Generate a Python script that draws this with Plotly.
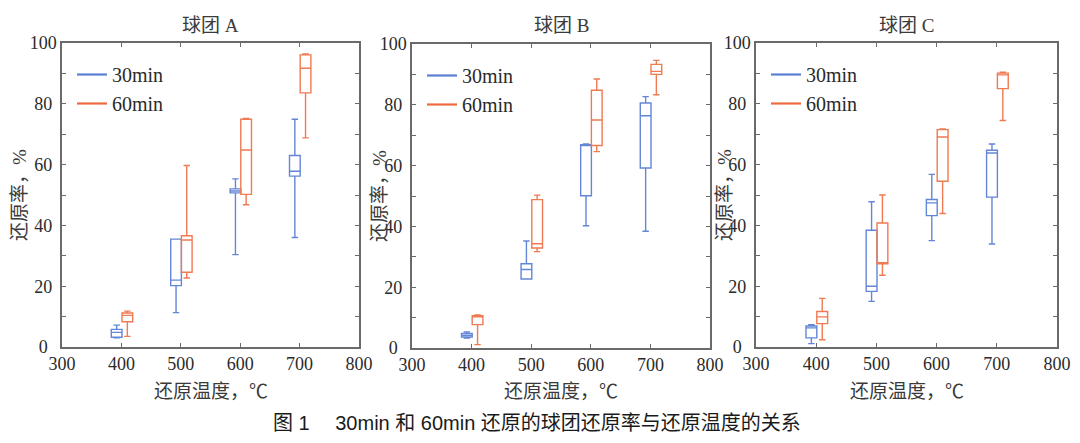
import plotly.graph_objects as go

# ---------------- data ----------------
temps = [400, 500, 600, 700]
series_names = ["30min", "60min"]
panel_titles = ["球团 A", "球团 B", "球团 C"]
x_tick_vals = [300, 400, 500, 600, 700, 800]
y_tick_vals = [0, 10, 20, 30, 40, 50, 60, 70, 80, 90, 100]
# labels are centred in the reference: pad shorter ones with thin spaces
y_tick_text = ["0\u2002", "", "20\u2005", "", "40\u2005", "", "60\u2005", "",
               "80\u2005", "", "100"]
x_title = "还原温度，℃"
y_title = "还原率，%"
caption = "图 1\u2003 30min 和 60min 还原的球团还原率与还原温度的关系"

# each row: [lower whisker, q1, median, q3, upper whisker] for 400/500/600/700 ℃
A_30min = [[3.0, 3.2, 4.8, 5.8, 7.2],
           [11.3, 20.2, 22.0, 35.5, 35.5],
           [30.4, 50.7, 51.3, 52.0, 55.3],
           [36.0, 56.2, 57.8, 63.0, 74.9]]
A_60min = [[3.5, 8.3, 10.4, 11.2, 11.8],
           [22.7, 24.6, 35.2, 36.6, 59.7],
           [46.8, 50.2, 64.8, 74.9, 75.2],
           [68.8, 83.6, 91.7, 96.1, 96.4]]
B_30min = [[3.3, 3.6, 4.2, 4.8, 5.3],
           [22.7, 22.7, 25.8, 27.7, 35.2],
           [40.2, 50.1, 66.6, 66.9, 67.1],
           [38.4, 59.2, 76.4, 80.6, 82.7]]
B_60min = [[1.1, 7.7, 10.3, 10.6, 10.9],
           [31.7, 32.9, 34.3, 48.8, 50.3],
           [64.6, 66.6, 75.0, 84.8, 88.5],
           [83.3, 90.0, 91.0, 93.3, 94.6]]
C_30min = [[1.1, 3.0, 6.3, 6.9, 7.3],
           [15.0, 18.3, 20.0, 38.4, 47.8],
           [35.0, 43.2, 47.4, 48.5, 56.8],
           [33.9, 49.3, 63.8, 64.7, 66.8]]
C_60min = [[2.4, 7.7, 9.9, 11.7, 16.0],
           [23.6, 27.4, 27.6, 40.8, 50.0],
           [43.9, 54.5, 69.1, 71.5, 71.7],
           [74.5, 85.0, 89.5, 90.1, 90.4]]

panels = [(A_30min, A_60min), (B_30min, B_60min), (C_30min, C_60min)]

# ---------------- style ----------------
W, H = 1080, 443
box_colors = ["#6486d6", "#f07a52"]
legend_colors = ["#5a7ed2", "#ef6a3e"]
offsets = [-8, 10]
box_width = 18
serif = "Liberation Serif, Noto Sans CJK SC, serif"
txt_color = "#2a2a2a"
cjk_color = "#3a3a3a"
axis_color = "#6a6a6a"

# plot areas in pixels (left, right, top, bottom) and y-title offsets
areas = [(62, 359, 43, 347), (412, 710, 44, 348), (756, 1057, 43, 347)]
ytitle_gap = [43, 33, 32]

def px(x):
    return x / W

def py(y):
    return 1 - y / H

fig = go.Figure()
layout = dict(
    width=W, height=H,
    margin=dict(l=0, r=0, t=0, b=0, autoexpand=False),
    paper_bgcolor="white", plot_bgcolor="white",
    showlegend=True,
    annotations=[],
)

for p, (s30, s60) in enumerate(panels):
    sfx = "" if p == 0 else str(p + 1)
    xa, ya = "x" + sfx, "y" + sfx
    lg = "legend" + sfx
    for s, stats in enumerate((s30, s60)):
        fig.add_trace(go.Box(
            x=[t + offsets[s] for t in temps],
            lowerfence=[r[0] for r in stats],
            q1=[r[1] for r in stats],
            median=[r[2] for r in stats],
            q3=[r[3] for r in stats],
            upperfence=[r[4] for r in stats],
            width=box_width, whiskerwidth=0.6,
            line=dict(color=box_colors[s], width=1.4),
            fillcolor="rgba(0,0,0,0)",
            boxpoints=False, showlegend=False, hoverinfo="skip",
            xaxis=xa, yaxis=ya,
        ))
    for s in range(2):
        fig.add_trace(go.Scatter(
            x=[None], y=[None], mode="lines", name=series_names[s],
            line=dict(color=legend_colors[s], width=2.2),
            xaxis=xa, yaxis=ya, legend=lg,
        ))
    l, r, t, b = areas[p]
    layout["xaxis" + sfx] = dict(
        domain=[px(l), px(r)], anchor=ya, range=[300, 800], automargin=False,
        tickvals=x_tick_vals, ticks="inside", ticklen=4, tickcolor=axis_color,
        showline=True, linecolor=axis_color, linewidth=1.5, mirror="ticks",
        showgrid=False, zeroline=False, ticklabelstandoff=0,
        tickfont=dict(family=serif, size=18, color=txt_color),
    )
    layout["yaxis" + sfx] = dict(
        domain=[py(b), py(t)], anchor=xa, range=[0, 100], automargin=False,
        tickvals=y_tick_vals, ticktext=y_tick_text,
        ticks="inside", ticklen=4, tickcolor=axis_color,
        showline=True, linecolor=axis_color, linewidth=1.5, mirror="ticks",
        showgrid=False, zeroline=False,
        tickfont=dict(family=serif, size=18, color=txt_color),
    )
    layout[lg] = dict(
        x=px(l + 10), y=py(t + 12), xanchor="left", yanchor="top",
        xref="paper", yref="paper",
        bgcolor="rgba(0,0,0,0)", borderwidth=0,
        font=dict(family=serif, size=20, color=txt_color),
        itemwidth=30, tracegroupgap=0,
    )
    cx = (l + r) / 2
    layout["annotations"] += [
        dict(text=panel_titles[p], x=px(cx), y=py(25), xref="paper", yref="paper",
             showarrow=False, font=dict(family=serif, size=19, color=cjk_color),
             xanchor="center", yanchor="middle"),
        dict(text=x_title, x=px(cx), y=py(391), xref="paper", yref="paper",
             showarrow=False, font=dict(family=serif, size=19, color=cjk_color),
             xanchor="center", yanchor="middle"),
        dict(text=y_title, x=px(l - ytitle_gap[p]), y=py((t + b) / 2),
             xref="paper", yref="paper", showarrow=False, textangle=-90,
             font=dict(family=serif, size=19, color=cjk_color),
             xanchor="center", yanchor="middle"),
    ]

layout["annotations"].append(
    dict(text=caption, x=px(537), y=py(423), xref="paper", yref="paper",
         showarrow=False, font=dict(family="Liberation Sans, Noto Sans CJK SC, sans-serif",
                                    size=20, color="#1a1a1a"),
         xanchor="center", yanchor="middle"))

fig.update_layout(**layout)
fig.write_html("out.html")
